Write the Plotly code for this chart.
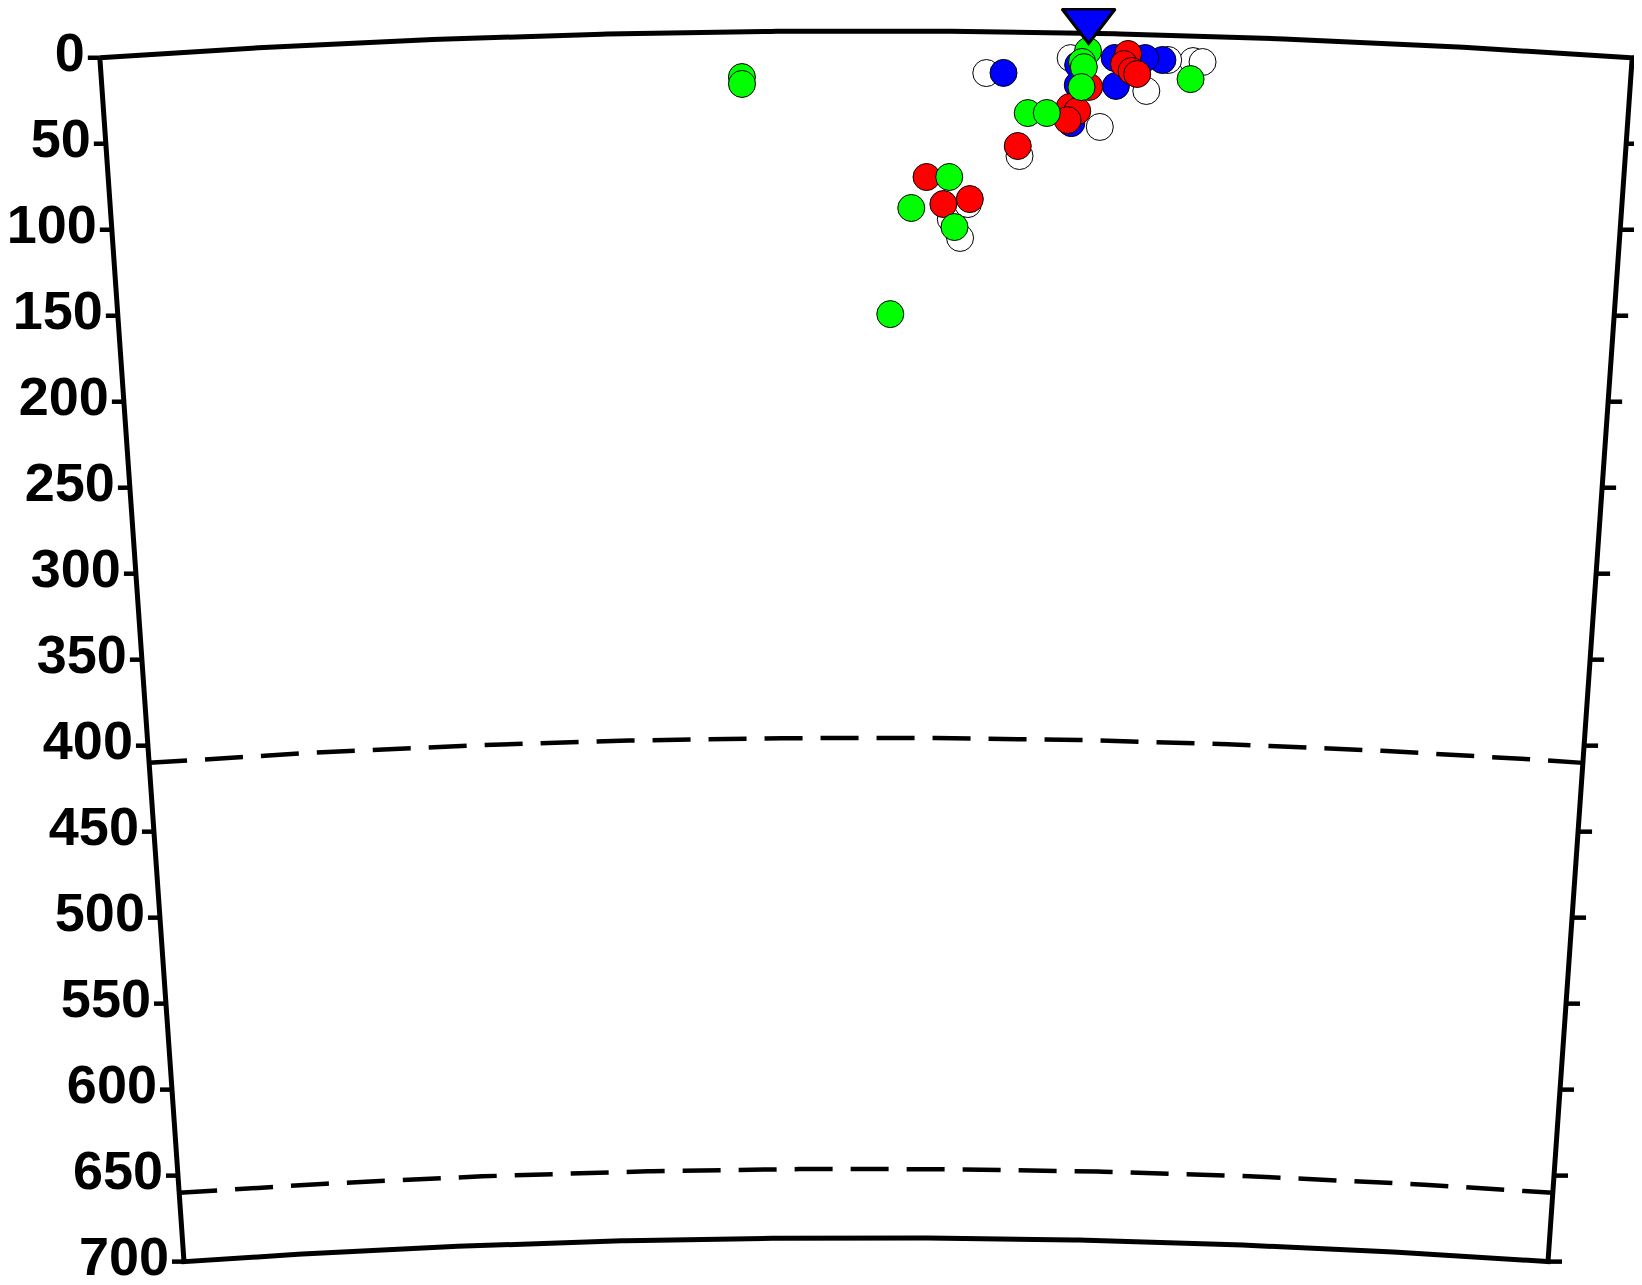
import numpy as np
import plotly.graph_objects as go

# ---------------- data ----------------
EARTH_R = 6371.0          # km
SECTOR_DEG = 8.0          # width of the cross-section (degrees)
MAX_DEPTH = 700           # km

depth_ticks = [0, 50, 100, 150, 200, 250, 300, 350, 400, 450, 500, 550, 600, 650, 700]
tick_labels = [str(d) for d in depth_ticks]
discontinuities = [410, 660]

# distance along the section (degrees from the left edge) and depth (km)
station_dist = [5.16]
station_depth = [-7.4]

white_dist = [4.63, 5.07, 5.47, 5.23, 4.81, 5.71, 5.76, 5.58, 4.45, 4.54, 4.50]
white_depth = [24.0, 14.6, 32.7, 54.2, 71.9, 14.6, 15.0, 14.4, 108.9, 100.1, 119.8]

blue_dist = [4.72, 5.11, 5.30, 5.31, 5.55, 5.46, 5.08, 5.11]
blue_depth = [23.8, 18.5, 14.0, 30.2, 14.5, 13.6, 52.3, 30.1]

red_dist = [4.80, 5.37, 5.35, 5.39, 5.42, 5.17, 5.07, 5.11, 5.06, 4.32, 4.41, 4.55]
red_depth = [66.1, 11.5, 17.4, 21.3, 23.0, 31.1, 43.0, 45.2, 50.6, 84.6, 100.2, 97.2]

green_dist = [3.35, 3.35, 5.16, 5.13, 5.14, 5.13, 4.85, 4.95, 5.70, 4.44, 4.24, 4.47, 4.13]
green_depth = [26.3, 30.3, 10.3, 16.7, 19.7, 31.3, 46.9, 46.7, 25.1, 84.5, 102.6, 113.5, 164.2]

# ---------------- projection (cross-section of the sphere) ----------------
HALF = SECTOR_DEG / 2.0


def proj(dist, depth):
    th = np.radians(np.asarray(dist, float) - HALF)
    r = EARTH_R - np.asarray(depth, float)
    return r * np.sin(th), r * np.cos(th)


PX_PER_KM = 1.724
W, H = 1634, 1277           # page body has an 8px margin
CX_PX, TOP_PX = 858, 23
x_range = [-CX_PX / PX_PER_KM, (W - CX_PX) / PX_PER_KM]
y_top = EARTH_R + TOP_PX / PX_PER_KM
y_range = [y_top - H / PX_PER_KM, y_top]

fig = go.Figure()

# frame
arc = np.linspace(0, SECTOR_DEG, 300)
fd = np.concatenate([arc, np.full(2, SECTOR_DEG), arc[::-1], np.zeros(2)])
fz = np.concatenate([np.zeros(arc.size), [0, MAX_DEPTH], np.full(arc.size, MAX_DEPTH), [MAX_DEPTH, 0]])
fx, fy = proj(fd, fz)
fig.add_trace(go.Scatter(x=fx, y=fy, mode="lines",
                         line=dict(color="black", width=5), hoverinfo="skip"))

# discontinuities (dashed)
for d in discontinuities:
    dx_, dy_ = proj(arc, np.full(arc.size, d))
    fig.add_trace(go.Scatter(x=dx_, y=dy_, mode="lines",
                             line=dict(color="black", width=4.5, dash="38px,18px"),
                             hoverinfo="skip"))

# ticks on both edges
LT, RT = 12 / PX_PER_KM, 14 / PX_PER_KM
lx, ly = proj(np.zeros(len(depth_ticks)), depth_ticks)
rx, ry = proj(np.full(len(depth_ticks), SECTOR_DEG), depth_ticks)
tlx, tly, trx, try_ = [], [], [], []
for a, b in zip(lx, ly):
    tlx += [a - LT, a, None]
    tly += [b, b, None]
for a, b in zip(rx, ry):
    trx += [a, a + RT, None]
    try_ += [b, b, None]
fig.add_trace(go.Scatter(x=tlx, y=tly, mode="lines", line=dict(color="black", width=4.5), hoverinfo="skip"))
fig.add_trace(go.Scatter(x=trx, y=try_, mode="lines", line=dict(color="black", width=4.5), hoverinfo="skip"))

# tick labels
fig.add_trace(go.Scatter(
    x=lx - LT - 3 / PX_PER_KM, y=ly, mode="text", text=tick_labels,
    textposition="middle left",
    textfont=dict(family="Liberation Sans, Arial, sans-serif", size=54, color="black", weight="bold"),
    hoverinfo="skip"))

# events
for dist, dep, col in [(white_dist, white_depth, "white"),
                       (blue_dist, blue_depth, "#0000ff"),
                       (red_dist, red_depth, "#ff0000"),
                       (green_dist, green_depth, "#00ff00")]:
    x, y = proj(dist, dep)
    fig.add_trace(go.Scatter(x=x, y=y, mode="markers",
                             marker=dict(size=27, color=col, line=dict(color="black", width=1))))

# station
sx, sy = proj(station_dist, station_depth)
fig.add_trace(go.Scatter(x=sx, y=sy, mode="markers",
                         marker=dict(symbol="triangle-down", size=46, color="#0000ff",
                                     line=dict(color="black", width=3))))

fig.update_xaxes(visible=False, range=x_range, fixedrange=True)
fig.update_yaxes(visible=False, range=y_range, fixedrange=True)
fig.update_layout(width=W, height=H, margin=dict(l=0, r=0, t=0, b=0),
                  paper_bgcolor="white", plot_bgcolor="white", showlegend=False)

fig.write_html("out.html")
